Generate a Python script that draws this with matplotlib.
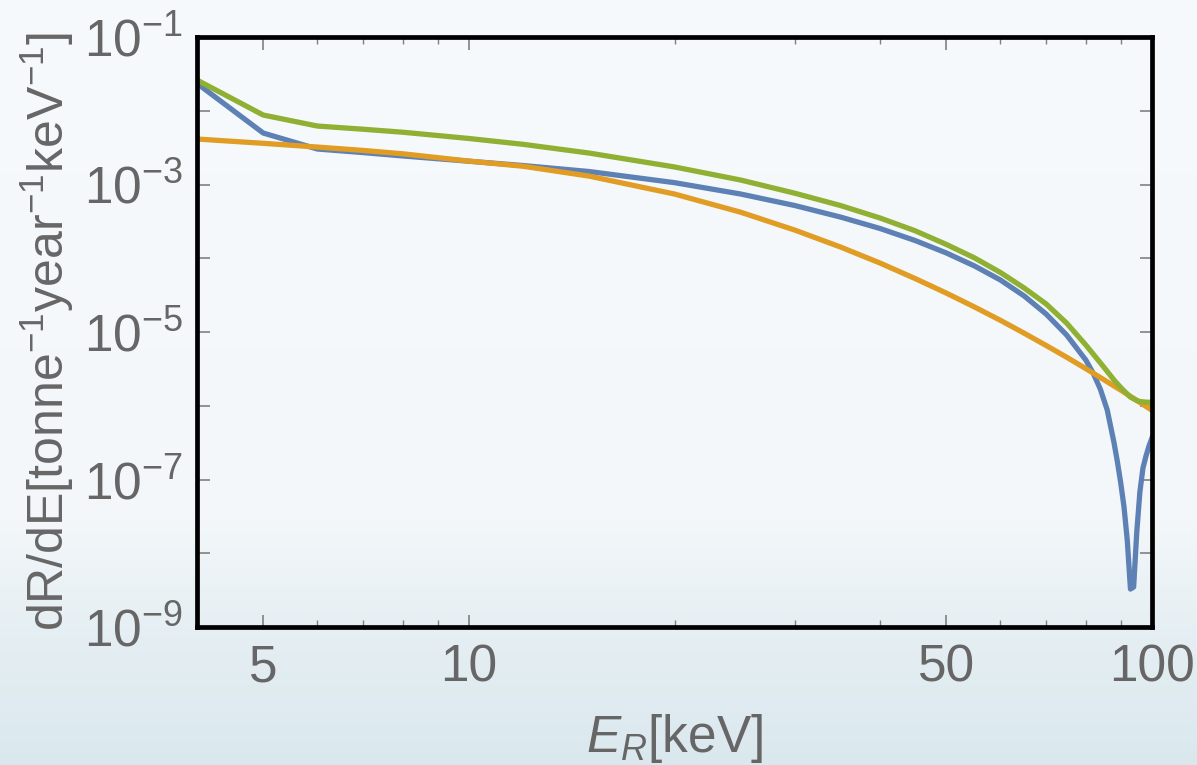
import numpy as np
import matplotlib
matplotlib.use("Agg")
import matplotlib.pyplot as plt
from matplotlib.ticker import FixedLocator, FuncFormatter, NullFormatter
from matplotlib.colors import LinearSegmentedColormap

# recoil energy grid, keV (orange and green curves)
energy = [4, 5, 6, 7, 8, 10, 12, 15, 20, 25, 30, 35, 40, 45, 50, 55, 60, 65,
          70, 75, 80, 85, 88, 90, 92, 93, 94, 95, 96, 98, 100]
# blue curve is sampled finer around its form-factor zero
energy_blue = [4, 5, 6, 7, 8, 10, 12, 15, 20, 25, 30, 35, 40, 45, 50, 55, 60,
               65, 70, 75, 80, 82, 84, 86, 88, 89, 90, 91, 92, 93, 94, 95, 96,
               97, 98, 99, 100]

# differential rates, tonne^-1 year^-1 keV^-1
rate_blue = [2.35e-2, 4.99e-3, 3.03e-3, 2.71e-3, 2.44e-3, 2.07e-3, 1.81e-3,
             1.50e-3, 1.06e-3, 7.43e-4, 5.19e-4, 3.62e-4, 2.53e-4, 1.74e-4,
             1.18e-4, 7.85e-5, 5.07e-5, 3.08e-5, 1.75e-5, 9.10e-6, 4.17e-6,
             2.78e-6, 1.69e-6, 8.75e-7, 3.13e-7, 1.73e-7, 8.97e-8, 4.24e-8,
             1.51e-8, 3.27e-9, 3.48e-9, 1.94e-8, 6.78e-8, 1.43e-7, 2.08e-7,
             2.85e-7, 3.66e-7]
rate_orange = [4.14e-3, 3.62e-3, 3.22e-3, 2.90e-3, 2.61e-3, 2.08e-3, 1.77e-3,
               1.30e-3, 7.43e-4, 4.21e-4, 2.41e-4, 1.42e-4, 8.60e-5, 5.31e-5,
               3.37e-5, 2.18e-5, 1.44e-5, 9.63e-6, 6.56e-6, 4.55e-6, 3.19e-6,
               2.26e-6, 1.85e-6, 1.63e-6, 1.43e-6, 1.34e-6, 1.26e-6, 1.18e-6,
               1.11e-6, 9.79e-7, 8.67e-7]
rate_green = [2.61e-2, 8.75e-3, 6.21e-3, 5.62e-3, 5.12e-3, 4.21e-3, 3.51e-3,
              2.67e-3, 1.73e-3, 1.15e-3, 7.62e-4, 5.19e-4, 3.51e-4, 2.36e-4,
              1.54e-4, 1.01e-4, 6.41e-5, 3.95e-5, 2.40e-5, 1.32e-5, 6.67e-6,
              3.35e-6, 2.23e-6, 1.77e-6, 1.44e-6, 1.31e-6, 1.24e-6, 1.18e-6,
              1.14e-6, 1.12e-6, 1.11e-6]

x_major = [5, 10, 50, 100]
x_minor = [6, 7, 8, 9, 20, 30, 40, 60, 70, 80, 90]
y_decades = list(range(-9, 0))

TEXT = "#666666"
TICK = "#808080"

plt.rcParams["font.family"] = ["Liberation Sans", "DejaVu Sans"]
plt.rcParams["mathtext.fontset"] = "custom"
plt.rcParams["mathtext.rm"] = "Liberation Sans"
plt.rcParams["mathtext.it"] = "Liberation Sans:italic"
plt.rcParams["mathtext.default"] = "regular"

fig = plt.figure(figsize=(11.97, 7.65), dpi=100)

# soft vertical gradient behind everything
bg = fig.add_axes([0, 0, 1, 1], zorder=-10)
cmap = LinearSegmentedColormap.from_list(
    "bg", [(0.0, "#dae8ee"), (0.18, "#e6eff3"), (0.32, "#f3f7fa"), (1.0, "#f7fafc")])
grad = np.linspace(0, 1, 256).reshape(-1, 1)
bg.imshow(grad, aspect="auto", cmap=cmap, origin="lower", extent=[0, 1, 0, 1])
bg.axis("off")

ax = fig.add_axes([0.1646, 0.1804, 0.7978, 0.7712])
ax.set_facecolor("none")

lw = 3.8
ax.plot(energy_blue, rate_blue, color="#5e81b5", lw=lw)
ax.plot(energy, rate_orange, color="#e19c24", lw=lw)
ax.plot(energy, rate_green, color="#8fb032", lw=lw)

ax.set_xscale("log")
ax.set_yscale("log")
ax.set_xlim(4, 100)
ax.set_ylim(1e-9, 1e-1)

# x ticks: labelled at 5, 10, 50, 100
ax.xaxis.set_major_locator(FixedLocator(x_major))
ax.xaxis.set_minor_locator(FixedLocator(x_minor))
ax.xaxis.set_major_formatter(FuncFormatter(lambda v, p: "%d" % v))
ax.xaxis.set_minor_formatter(NullFormatter())

# y ticks at every decade, labels only on the odd ones
ax.yaxis.set_major_locator(FixedLocator([10.0 ** k for k in y_decades]))
ax.yaxis.set_minor_locator(FixedLocator([]))


def ylab(v, pos):
    k = int(round(np.log10(v)))
    if k % 2 == 0:
        return ""
    return r"$10^{%d}$" % k


ax.yaxis.set_major_formatter(FuncFormatter(ylab))

ax.tick_params(which="both", direction="in", top=True, right=True,
               color=TICK, labelcolor=TEXT, labelsize=37)
ax.tick_params(which="major", length=9, width=1.2)
ax.tick_params(which="minor", length=5, width=1.0)
ax.tick_params(axis="x", pad=12)
ax.tick_params(axis="y", pad=10)

for s in ax.spines.values():
    s.set_color("black")
    s.set_linewidth(3.4)

ax.set_xlabel(r"$\mathit{E}_{\mathit{R}}$[keV]", fontsize=37, color=TEXT, labelpad=14)
ax.set_ylabel(r"dR/dE[tonne$^{-1}$year$^{-1}$keV$^{-1}$]", fontsize=36,
              color=TEXT, labelpad=6)

fig.savefig("out.png", dpi=100)
